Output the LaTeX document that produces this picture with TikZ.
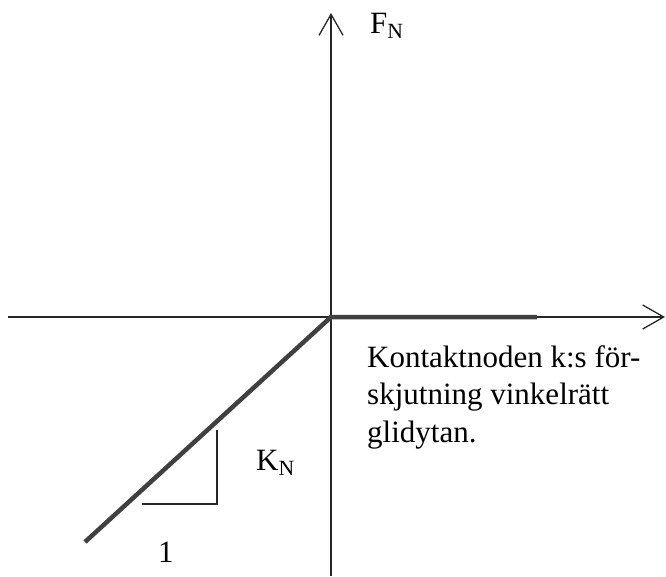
\documentclass[tikz,border=0pt]{standalone}
\usepackage{fontspec}
\setmainfont{Liberation Serif}
\usetikzlibrary{arrows.meta}
\begin{document}
\begin{tikzpicture}[x=1pt, y=-1pt, every node/.style={font=\fontsize{31}{37.5}\selectfont, inner sep=0pt},
    axel/.style={line width=1.3pt, black!85, -{Straight Barb[length=21pt, width=24pt, line width=1.3pt]}},
    kurva/.style={line width=4.5pt, black!75, line join=round}]
    \useasboundingbox (0,0) rectangle (666,576);

    % Axlar
    \coordinate (O) at (331,317);
    \coordinate (xstart) at (8,317);
    \coordinate (xslut) at (665,317);
    \coordinate (ystart) at (331,576);
    \coordinate (yslut) at (331,13);
    \draw[axel] (xstart) -- (xslut);
    \draw[axel] (ystart) -- (yslut);

    % Styvhet
    \coordinate (A) at (537,317);
    \coordinate (B) at (85,542);
    \draw[kurva] (B) -- (O) -- (A);

    % Lutningstriangel
    \coordinate (t1) at (217,430);
    \coordinate (t2) at (217,504);
    \coordinate (t3) at (142,504);
    \draw[line width=1.3pt, black!85] (t1) -- (t2) -- (t3);

    % Texter
    \node[anchor=base west] (fn) at (370,33) {F\textsubscript{N}};
    \node[anchor=base west] (kn) at (256,470) {K\textsubscript{N}};
    \node[anchor=base west] (ett) at (158,562) {1};
    \node[anchor=base west, align=left] (text) at (367,442) {Kontaktnoden k:s för-\\skjutning vinkelrätt\\glidytan.};
\end{tikzpicture}
\end{document}
